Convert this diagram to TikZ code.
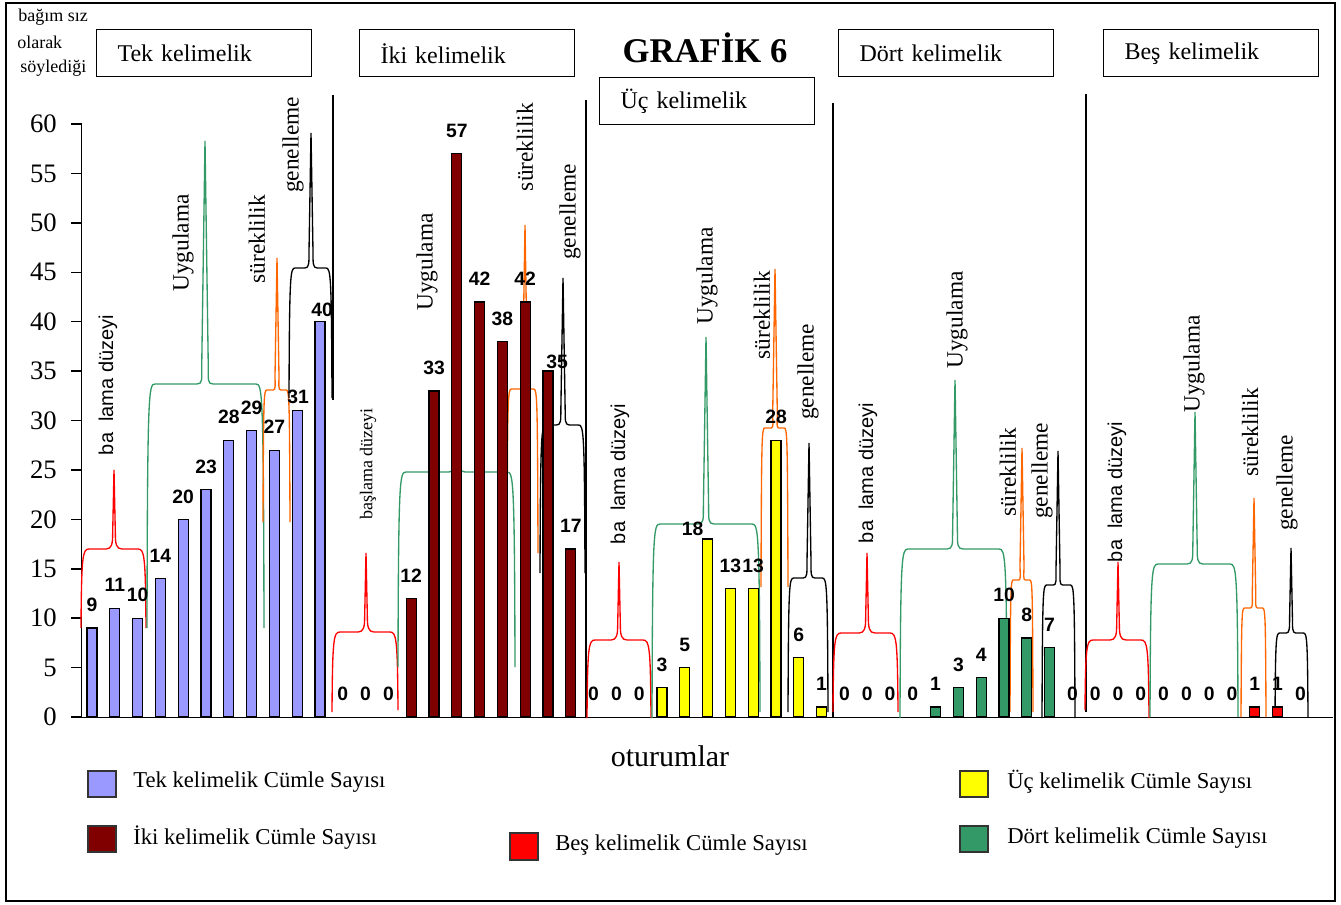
\documentclass[tikz,border=0pt]{standalone}
\usepackage{fontspec}
\setmainfont{Liberation Serif}
\newfontfamily\arialfont{Liberation Sans}
\definecolor{barblue}{HTML}{9999FF}
\definecolor{bardred}{HTML}{800000}
\definecolor{baryel}{HTML}{FFFF00}
\definecolor{bargreen}{HTML}{339966}
\definecolor{barred}{HTML}{FF0000}
\definecolor{brorange}{HTML}{FF6600}
\definecolor{brgreen}{HTML}{339966}
\newcommand\mybrace[8]{%
 \pgfmathsetmacro\bw{min(8,(#3-#2)/7)}%
 \pgfmathsetmacro\sw{0.012*(#5-#6)+0.4}%
 \draw[bracestyle,#1] (#2,#7) .. controls (#2+0.5,#5+6) and (#2+0.2*\bw,#5) .. (#2+\bw,#5)
   -- (#4-\bw,#5) .. controls (#4-0.3*\bw,#5) and (#4-\sw,#5-5) .. (#4-\sw,#5-15)
   -- (#4,#6) -- (#4+\sw,#5-15) .. controls (#4+\sw,#5-5) and (#4+0.3*\bw,#5) .. (#4+\bw,#5)
   -- (#3-\bw,#5) .. controls (#3-0.2*\bw,#5) and (#3-0.5,#5+6) .. (#3,#8);
}
\begin{document}
\begin{tikzpicture}[x=0.75pt,y=-0.75pt,
  bracestyle/.style={line width=1pt},
  bar/.style={draw=black,line width=1pt},
  valbl/.style={font=\arialfont\bfseries\fontsize{14.5}{15}\selectfont,inner sep=0pt},
  vlab/.style={rotate=90,font=\fontsize{17.5}{18}\selectfont,inner sep=0pt},
  slab/.style={rotate=90,font=\arialfont\fontsize{15}{16}\selectfont,inner sep=0pt},
  ticklbl/.style={anchor=east,font=\fontsize{20}{20}\selectfont,inner sep=0pt},
  titlebox/.style={draw,line width=1.1pt,anchor=north west,minimum width=161.25pt,minimum height=35.25pt,
     text width=130pt,inner xsep=15.5pt,align=left,font=\fontsize{18}{20}\selectfont},
  legbox/.style={draw=black!80,line width=1pt},
  legtext/.style={anchor=west,inner sep=0pt,font=\fontsize{17}{18}\selectfont},
  sepline/.style={line width=1.1pt}
]
\useasboundingbox (0,0) rectangle (1341,904);
\draw[line width=1.1pt] (6,3) rectangle (1335,901);

% top-left text
\node[anchor=west,inner sep=0pt,font=\fontsize{13.5}{14}\selectfont] (tl1) at (18,17) {bağım sız};
\node[anchor=west,inner sep=0pt,font=\fontsize{13.5}{14}\selectfont] (tl2) at (17,42) {olarak};
\node[anchor=west,inner sep=0pt,font=\fontsize{13.5}{14}\selectfont] (tl3) at (20,68) {söylediği};

% title boxes
\node[titlebox] (b1) at (96,29) {Tek kelimelik};
\node[titlebox] (b2) at (359,29) {İki kelimelik};
\node[titlebox] (b3) at (599,77) {Üç kelimelik};
\node[titlebox] (b4) at (838,29) {Dört kelimelik};
\node[titlebox] (b5) at (1103,29) {Beş kelimelik};
\node[font=\bfseries\fontsize{26}{28}\selectfont,inner sep=0pt] (title) at (705,48) {GRAFİK 6};

% axes
\draw[line width=1.1pt] (81.5,124) -- (81.5,717.5);
\draw[line width=1.1pt] (71,717.5) -- (1333,717.5);
\foreach \t in {0,5,...,60}{
  \pgfmathsetmacro\ty{717-9.883*\t}
  \draw[line width=1.1pt] (71,\ty) -- (81.5,\ty);
  \node[ticklbl] (tk\t) at (57,\ty) {\t};
}

% separators
\draw[sepline] (333,95) -- (333,400);
\draw[sepline] (586,100) -- (586,718);
\draw[sepline] (833,103) -- (833,718);
\draw[sepline] (1086,94) -- (1086,712);

% braces: color, xl, xr, xc, yh, ytip, ybl, ybr
\mybrace{red}{81}{146}{114}{549}{470}{628}{628}
\mybrace{brgreen}{147}{264}{205}{384}{141}{628}{628}
\mybrace{brorange}{263}{290}{277}{390}{258}{522}{522}
\mybrace{black}{289}{332}{311}{268}{133}{398}{398}
\mybrace{red}{332}{398}{366}{632}{553}{712}{710}
\mybrace{brgreen}{398}{515}{457}{472}{278}{667}{667}
\mybrace{brorange}{507}{538}{525}{389}{225}{553}{553}
\mybrace{black}{540}{585}{563}{425}{278}{573}{573}
\mybrace{red}{587}{651}{619}{640}{562}{718}{718}
\mybrace{brgreen}{652}{760}{706}{524}{337}{718}{712}
\mybrace{brorange}{761}{788}{775}{428}{269}{587}{587}
\mybrace{black}{788}{828}{809}{578}{443}{712}{712}
\mybrace{red}{833}{898}{867}{633}{553}{712}{712}
\mybrace{brgreen}{900}{1007}{955}{549}{380}{718}{715}
\mybrace{brorange}{1010}{1033}{1022}{580}{448}{712}{712}
\mybrace{black}{1042}{1075}{1058}{585}{451}{718}{718}
\mybrace{red}{1085}{1149}{1118}{640}{562}{710}{718}
\mybrace{brgreen}{1150}{1238}{1195}{564}{412}{717}{717}
\mybrace{brorange}{1241}{1266}{1254}{608}{498}{717}{717}
\mybrace{black}{1275}{1308}{1291}{633}{548}{717}{717}

% bars and value labels
\foreach \v/\dx/\dy [count=\i from 0] in {9/0/0,11/0/0,10/0/0,14/0/0,20/0/0,23/0/0,28/0/0,29/0/0,27/0/0,31/1/9.5,40/2/11,
  0/0/0,0/0/0,0/0/0,12/0/0,33/0/0,57/0/0,42/0/0,38/0/0,42/0/0,35/9/14,17/0/0,
  0/0/0,0/0/0,0/0/0,3/0/0,5/0/0,18/-15/13,13/0/0,13/0/0,28/0/0,6/0/0,1/0/0,
  0/0/0,0/0/0,0/0/0,0/0/0,1/0/0,3/0/0,4/0/0,10/0/0,8/0/0,7/0/0,0/0/0,
  0/0/0,0/0/0,0/0/0,0/0/0,0/0/0,0/0/0,0/0/0,1/0/0,1/0/0,0/0/0}{
  \pgfmathsetmacro\xx{92+22.8*\i}
  \pgfmathsetmacro\yt{717-9.883*\v}
  \ifnum\i<11 \def\bc{barblue}\else\ifnum\i<22 \def\bc{bardred}\else\ifnum\i<33 \def\bc{baryel}\else\ifnum\i<44 \def\bc{bargreen}\else\def\bc{barred}\fi\fi\fi\fi
  \ifnum\v>0 \filldraw[bar,fill=\bc] (\xx-5,717) rectangle (\xx+5,\yt); \fi
  \node[valbl] (v\i) at (\xx+\dx,\yt-23+\dy) {\v};
}

% vertical labels
\node[slab] (s1a) at (108,385) {ba\ \ lama düzeyi};
\node[vlab] (s1b) at (183,243) {Uygulama};
\node[vlab] (s1c) at (257,239) {süreklilik};
\node[vlab] (s1d) at (293,145) {genelleme};
\node[vlab,font=\fontsize{13.5}{14}\selectfont] (s2a) at (368,464) {başlama düzeyi};
\node[vlab] (s2b) at (427,262) {Uygulama};
\node[vlab] (s2c) at (525,147) {süreklilik};
\node[vlab] (s2d) at (570,212) {genelleme};
\node[slab] (s3a) at (620,474) {ba\ \ lama düzeyi};
\node[vlab] (s3b) at (707,276) {Uygulama};
\node[vlab] (s3c) at (762,315) {süreklilik};
\node[vlab] (s3d) at (808,372) {genelleme};
\node[slab] (s4a) at (868,473) {ba\ \ lama düzeyi};
\node[vlab] (s4b) at (957,320) {Uygulama};
\node[vlab] (s4c) at (1008,472) {süreklilik};
\node[vlab] (s4d) at (1042,471) {genelleme};
\node[slab] (s5a) at (1117,492) {ba\ \ lama düzeyi};
\node[vlab] (s5b) at (1194,364) {Uygulama};
\node[vlab] (s5c) at (1250,432) {süreklilik};
\node[vlab] (s5d) at (1287,483) {genelleme};

% x axis title
\node[font=\fontsize{22.5}{24}\selectfont,inner sep=0pt] (xt) at (670,756) {oturumlar};

% legend
\filldraw[legbox,fill=barblue] (88,771) rectangle (116,797);
\node[legtext] (l1) at (133,782) {Tek kelimelik Cümle Sayısı};
\filldraw[legbox,fill=bardred] (88,826) rectangle (116,852);
\node[legtext] (l2) at (133,838) {İki kelimelik Cümle Sayısı};
\filldraw[legbox,fill=barred] (510,833) rectangle (538,860);
\node[legtext] (l5) at (555,845) {Beş kelimelik Cümle Sayısı};
\filldraw[legbox,fill=baryel] (960,771) rectangle (988,797);
\node[legtext] (l3) at (1007,782) {Üç kelimelik Cümle Sayısı};
\filldraw[legbox,fill=bargreen] (960,826) rectangle (988,852);
\node[legtext] (l4) at (1007,838) {Dört kelimelik Cümle Sayısı};
\end{tikzpicture}
\end{document}
